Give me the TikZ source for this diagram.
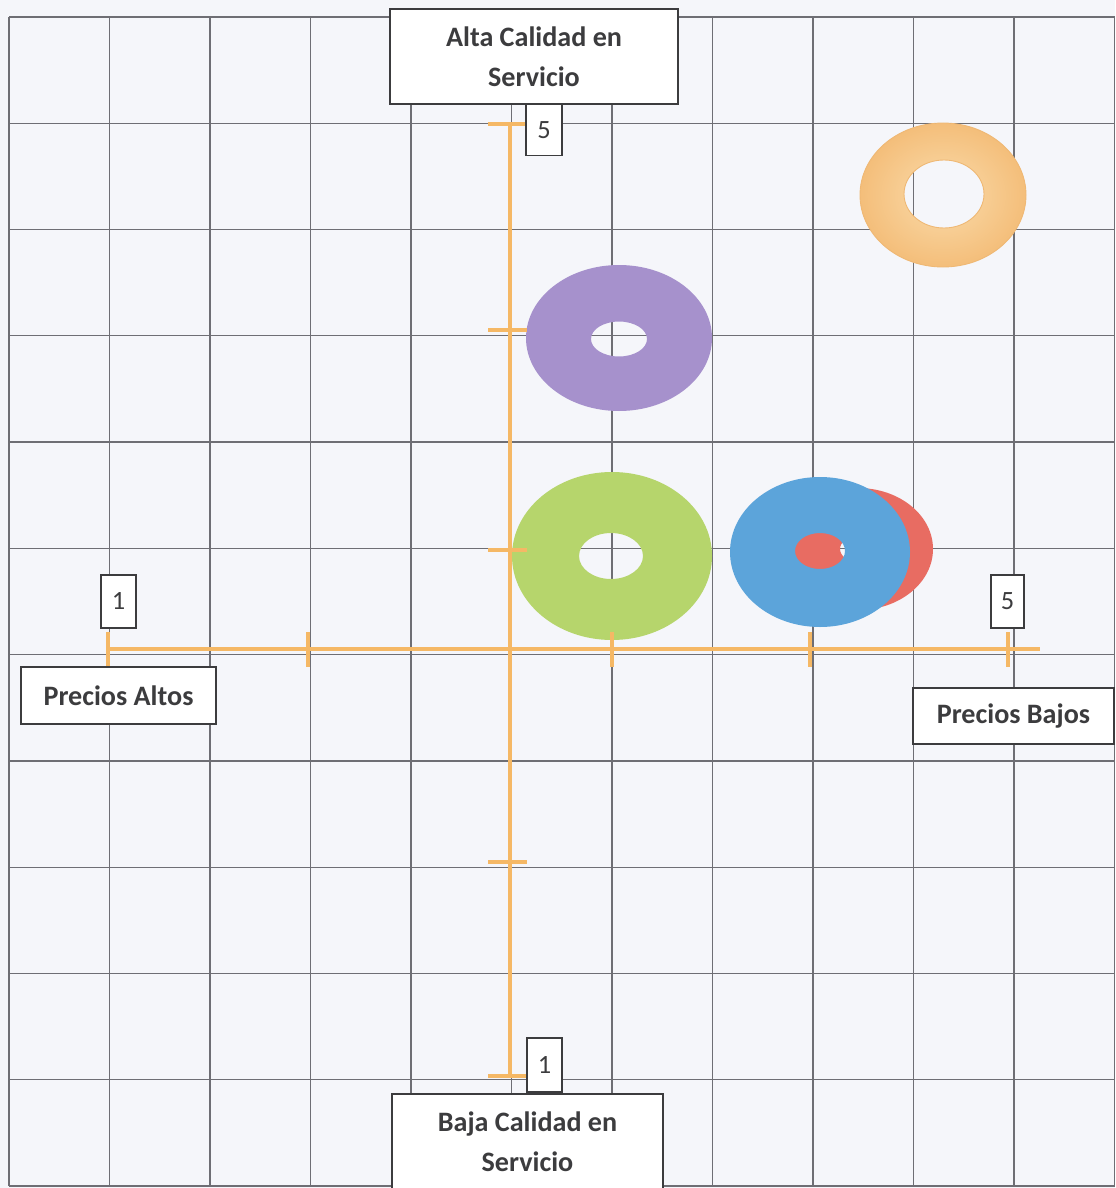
\documentclass[tikz,border=0pt]{standalone}
\usepackage{fontspec}
\setmainfont{Carlito}
\usetikzlibrary{positioning}

\definecolor{papel}{RGB}{245,246,250}
\definecolor{rejilla}{RGB}{110,110,116}
\definecolor{ejes}{RGB}{245,184,101}
\definecolor{tinta}{RGB}{60,60,62}
\definecolor{naranjaclaro}{RGB}{250,220,172}
\definecolor{naranja}{RGB}{244,190,122}
\definecolor{morado}{RGB}{166,145,204}
\definecolor{verde}{RGB}{182,213,108}
\definecolor{azul}{RGB}{92,164,218}
\definecolor{rojo}{RGB}{232,108,98}

\tikzset{
	etiqueta/.style={draw=tinta, line width=1.1pt, fill=white, text=tinta, align=center, inner sep=0pt,
		font=\fontsize{16}{22.7}\selectfont\bfseries},
	numero/.style={draw=tinta, line width=1.1pt, fill=white, text=tinta, inner sep=0pt,
		font=\fontsize{15}{18}\selectfont},
	eje/.style={draw=ejes, line width=2.8pt},
	marca/.style={draw=ejes, line width=2.4pt},
	dona/.style={even odd rule},
}

\begin{document}
\begin{tikzpicture}[x=0.2mm, y=-0.2mm]
		\useasboundingbox (0,0) rectangle (1115,1188);
		\clip (0,0) rectangle (1115,1188);
		\fill[papel] (0,0) rectangle (1115,1188);

		% rejilla
		\foreach \i in {0,...,11}
			\draw[rejilla, line width=0.7pt] ({9+100.5*\i},17) -- ({9+100.5*\i},1186);
		\foreach \j in {0,...,11}
			\draw[rejilla, line width=0.7pt] (9,{17+106.27*\j}) -- (1114.5,{17+106.27*\j});

		% donas
		\shade[dona, inner color=naranjaclaro, outer color=naranja] (943,195) ellipse [x radius=83, y radius=72] (944,194) ellipse [x radius=40, y radius=34];
		\draw[naranja!90!brown, line width=0.5pt] (943,195) ellipse [x radius=83, y radius=72] (944,194) ellipse [x radius=40, y radius=34];
		\fill[dona, morado] (619,338) ellipse [x radius=93, y radius=73] (619,339) ellipse [x radius=28, y radius=17.5];
		\fill[dona, verde] (612,556) ellipse [x radius=100, y radius=84] (611,556) ellipse [x radius=32, y radius=23];
		\fill[dona, rojo] (858,549) ellipse [x radius=75, y radius=61] (858,549) ellipse [x radius=18, y radius=13];
		\fill[dona, azul] (820,552) ellipse [x radius=90, y radius=75] (820,551) ellipse [x radius=25, y radius=18];

		% ejes
		\coordinate (norte) at (510,124);
		\coordinate (sur) at (510,1076);
		\coordinate (oeste) at (108,649);
		\coordinate (este) at (1040,649);
		\draw[eje] (norte) -- (sur);
		\draw[eje] (oeste) -- (este);
		\foreach \y in {124,330,550,862,1076}
			\draw[marca] (488,\y) -- (527,\y);
		\foreach \x in {108,308,612,810,1008}
			\draw[marca] (\x,632) -- (\x,667);

		% numeros
		\node[numero, minimum width=7.2mm, minimum height=10.2mm] (cincoArriba) at (544,130) {5};
		\node[numero, minimum width=7mm, minimum height=10.6mm] (unoIzq) at (118.5,601.5) {1};
		\node[numero, minimum width=6.6mm, minimum height=10.6mm] (cincoDer) at (1007.5,601.5) {5};
		\node[numero, minimum width=7mm, minimum height=10.8mm] (unoAbajo) at (544.5,1065) {1};

		% etiquetas
		\node[etiqueta, minimum width=57.6mm, minimum height=19mm] (altaCalidad) at (534,56.5) {Alta Calidad en\\Servicio};
		\node[etiqueta, minimum width=39mm, minimum height=11.4mm] (preciosAltos) at (118.5,695.5) {Precios Altos};
		\node[etiqueta, minimum width=40.2mm, minimum height=11.2mm] (preciosBajos) at (1013.5,716) {Precios Bajos};
		\node[etiqueta, minimum width=54.2mm, minimum height=19mm] (bajaCalidad) at (527.5,1141.5) {Baja Calidad en\\Servicio};
\end{tikzpicture}
\end{document}
